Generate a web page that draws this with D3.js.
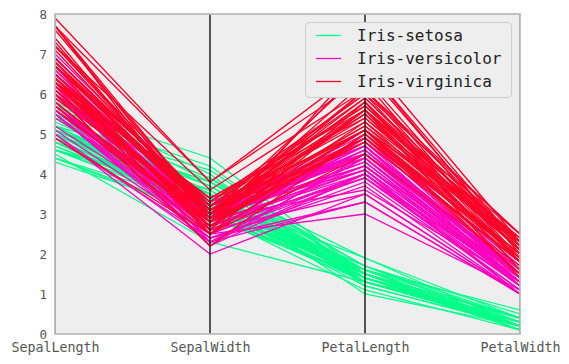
<!DOCTYPE html>
<html>
<head>
<meta charset="utf-8">
<script src="https://cdn.jsdelivr.net/npm/d3@7"></script>
<style>
html,body{margin:0;padding:0;background:#fff;}
svg{display:block;}
text{font-family:"DejaVu Sans Mono",monospace;}
</style>
</head>
<body>
<svg id="chart" width="569" height="364"></svg>
<script>
const dimensions = ["SepalLength","SepalWidth","PetalLength","PetalWidth"];
const classes = ["Iris-setosa","Iris-versicolor","Iris-virginica"];
const classColors = ["#00ff89","#ff00bf","#ff0029"];
const yTicks = [0,1,2,3,4,5,6,7,8];

const setosa = [
[5.1,3.5,1.4,0.2],[4.9,3.0,1.4,0.2],[4.7,3.2,1.3,0.2],[4.6,3.1,1.5,0.2],[5.0,3.6,1.4,0.2],
[5.4,3.9,1.7,0.4],[4.6,3.4,1.4,0.3],[5.0,3.4,1.5,0.2],[4.4,2.9,1.4,0.2],[4.9,3.1,1.5,0.1],
[5.4,3.7,1.5,0.2],[4.8,3.4,1.6,0.2],[4.8,3.0,1.4,0.1],[4.3,3.0,1.1,0.1],[5.8,4.0,1.2,0.2],
[5.7,4.4,1.5,0.4],[5.4,3.9,1.3,0.4],[5.1,3.5,1.4,0.3],[5.7,3.8,1.7,0.3],[5.1,3.8,1.5,0.3],
[5.4,3.4,1.7,0.2],[5.1,3.7,1.5,0.4],[4.6,3.6,1.0,0.2],[5.1,3.3,1.7,0.5],[4.8,3.4,1.9,0.2],
[5.0,3.0,1.6,0.2],[5.0,3.4,1.6,0.4],[5.2,3.5,1.5,0.2],[5.2,3.4,1.4,0.2],[4.7,3.2,1.6,0.2],
[4.8,3.1,1.6,0.2],[5.4,3.4,1.5,0.4],[5.2,4.1,1.5,0.1],[5.5,4.2,1.4,0.2],[4.9,3.1,1.5,0.1],
[5.0,3.2,1.2,0.2],[5.5,3.5,1.3,0.2],[4.9,3.1,1.5,0.1],[4.4,3.0,1.3,0.2],[5.1,3.4,1.5,0.2],
[5.0,3.5,1.3,0.3],[4.5,2.3,1.3,0.3],[4.4,3.2,1.3,0.2],[5.0,3.5,1.6,0.6],[5.1,3.8,1.9,0.4],
[4.8,3.0,1.4,0.3],[5.1,3.8,1.6,0.2],[4.6,3.2,1.4,0.2],[5.3,3.7,1.5,0.2],[5.0,3.3,1.4,0.2]
];
const versicolor = [
[7.0,3.2,4.7,1.4],[6.4,3.2,4.5,1.5],[6.9,3.1,4.9,1.5],[5.5,2.3,4.0,1.3],[6.5,2.8,4.6,1.5],
[5.7,2.8,4.5,1.3],[6.3,3.3,4.7,1.6],[4.9,2.4,3.3,1.0],[6.6,2.9,4.6,1.3],[5.2,2.7,3.9,1.4],
[5.0,2.0,3.5,1.0],[5.9,3.0,4.2,1.5],[6.0,2.2,4.0,1.0],[6.1,2.9,4.7,1.4],[5.6,2.9,3.6,1.3],
[6.7,3.1,4.4,1.4],[5.6,3.0,4.5,1.5],[5.8,2.7,4.1,1.0],[6.2,2.2,4.5,1.5],[5.6,2.5,3.9,1.1],
[5.9,3.2,4.8,1.8],[6.1,2.8,4.0,1.3],[6.3,2.5,4.9,1.5],[6.1,2.8,4.7,1.2],[6.4,2.9,4.3,1.3],
[6.6,3.0,4.4,1.4],[6.8,2.8,4.8,1.4],[6.7,3.0,5.0,1.7],[6.0,2.9,4.5,1.5],[5.7,2.6,3.5,1.0],
[5.5,2.4,3.8,1.1],[5.5,2.4,3.7,1.0],[5.8,2.7,3.9,1.2],[6.0,2.7,5.1,1.6],[5.4,3.0,4.5,1.5],
[6.0,3.4,4.5,1.6],[6.7,3.1,4.7,1.5],[6.3,2.3,4.4,1.3],[5.6,3.0,4.1,1.3],[5.5,2.5,4.0,1.3],
[5.5,2.6,4.4,1.2],[6.1,3.0,4.6,1.4],[5.8,2.6,4.0,1.2],[5.0,2.3,3.3,1.0],[5.6,2.7,4.2,1.3],
[5.7,3.0,4.2,1.2],[5.7,2.9,4.2,1.3],[6.2,2.9,4.3,1.3],[5.1,2.5,3.0,1.1],[5.7,2.8,4.1,1.3]
];
const virginica = [
[6.3,3.3,6.0,2.5],[5.8,2.7,5.1,1.9],[7.1,3.0,5.9,2.1],[6.3,2.9,5.6,1.8],[6.5,3.0,5.8,2.2],
[7.6,3.0,6.6,2.1],[4.9,2.5,4.5,1.7],[7.3,2.9,6.3,1.8],[6.7,2.5,5.8,1.8],[7.2,3.6,6.1,2.5],
[6.5,3.2,5.1,2.0],[6.4,2.7,5.3,1.9],[6.8,3.0,5.5,2.1],[5.7,2.5,5.0,2.0],[5.8,2.8,5.1,2.4],
[6.4,3.2,5.3,2.3],[6.5,3.0,5.5,1.8],[7.7,3.8,6.7,2.2],[7.7,2.6,6.9,2.3],[6.0,2.2,5.0,1.5],
[6.9,3.2,5.7,2.3],[5.6,2.8,4.9,2.0],[7.7,2.8,6.7,2.0],[6.3,2.7,4.9,1.8],[6.7,3.3,5.7,2.1],
[7.2,3.2,6.0,1.8],[6.2,2.8,4.8,1.8],[6.1,3.0,4.9,1.8],[6.4,2.8,5.6,2.1],[7.2,3.0,5.8,1.6],
[7.4,2.8,6.1,1.9],[7.9,3.8,6.4,2.0],[6.4,2.8,5.6,2.2],[6.3,2.8,5.1,1.5],[6.1,2.6,5.6,1.4],
[7.7,3.0,6.1,2.3],[6.3,3.4,5.6,2.4],[6.4,3.1,5.5,1.8],[6.0,3.0,4.8,1.8],[6.9,3.1,5.4,2.1],
[6.7,3.1,5.6,2.4],[6.9,3.1,5.1,2.3],[5.8,2.7,5.1,1.9],[6.8,3.2,5.9,2.3],[6.7,3.3,5.7,2.5],
[6.7,3.0,5.2,2.3],[6.3,2.5,5.0,1.9],[6.5,3.0,5.2,2.0],[6.2,3.4,5.4,2.3],[5.9,3.0,5.1,1.8]
];
const groups = [setosa, versicolor, virginica];

(function draw() {
const svg = d3.select("#chart");
const pLeft = 55, pRight = 520, pTop = 14, pBottom = 334;

const x = d3.scalePoint().domain(dimensions).range([pLeft, pRight]);
const y = d3.scaleLinear().domain([0, 8]).range([pBottom, pTop]);

svg.append("rect").attr("x", pLeft).attr("y", pTop)
  .attr("width", pRight - pLeft).attr("height", pBottom - pTop)
  .attr("fill", "#eeeeee");

svg.append("clipPath").attr("id", "clip")
  .append("rect").attr("x", pLeft).attr("y", pTop)
  .attr("width", pRight - pLeft).attr("height", pBottom - pTop);

const line = d3.line().x(d => x(d[0])).y(d => y(d[1]));
const g = svg.append("g").attr("clip-path", "url(#clip)");

groups.forEach((rows, ci) => {
  g.selectAll(null).data(rows).enter().append("path")
    .attr("d", r => line(dimensions.map((k, i) => [k, r[i]])))
    .attr("fill", "none")
    .attr("stroke", classColors[ci])
    .attr("stroke-width", 1.3);
});

g.selectAll(null).data(dimensions).enter().append("line")
  .attr("x1", d => x(d)).attr("x2", d => x(d))
  .attr("y1", pTop).attr("y2", pBottom)
  .attr("stroke", "#000").attr("stroke-width", 1.3);

svg.append("rect").attr("x", pLeft).attr("y", pTop)
  .attr("width", pRight - pLeft).attr("height", pBottom - pTop)
  .attr("fill", "none").attr("stroke", "#bcbcbc").attr("stroke-width", 1.8);

const yAxis = d3.axisLeft(y).tickValues(yTicks).tickSize(0).tickPadding(8).tickFormat(d3.format("d"));
const ya = svg.append("g").attr("transform", `translate(${pLeft},0)`).call(yAxis);
ya.select(".domain").remove();
ya.selectAll("text").attr("fill", "#555").style("font-size", "12.5px")
  .style("font-family", "'DejaVu Sans Mono', monospace");

const xAxis = d3.axisBottom(x).tickSize(0).tickPadding(9);
const xa = svg.append("g").attr("transform", `translate(0,${pBottom})`).call(xAxis);
xa.select(".domain").remove();
xa.selectAll("text").attr("fill", "#555").style("font-size", "13.3px")
  .style("font-family", "'DejaVu Sans Mono', monospace");

const lg = svg.append("g");
lg.append("rect").attr("x", 305.5).attr("y", 22.5).attr("width", 206).attr("height", 75)
  .attr("rx", 4).attr("fill", "#eeeeee")
  .attr("stroke", "#cccccc").attr("stroke-width", 1);
classes.forEach((c, i) => {
  const yy = 35.5 + i * 23;
  lg.append("line").attr("x1", 316).attr("x2", 341).attr("y1", yy).attr("y2", yy)
    .attr("stroke", classColors[i]).attr("stroke-width", 1.3);
  lg.append("text").attr("x", 357).attr("y", yy + 5.5).text(c)
    .attr("fill", "#222").style("font-size", "16px");
});
})();
</script>
</body>
</html>
